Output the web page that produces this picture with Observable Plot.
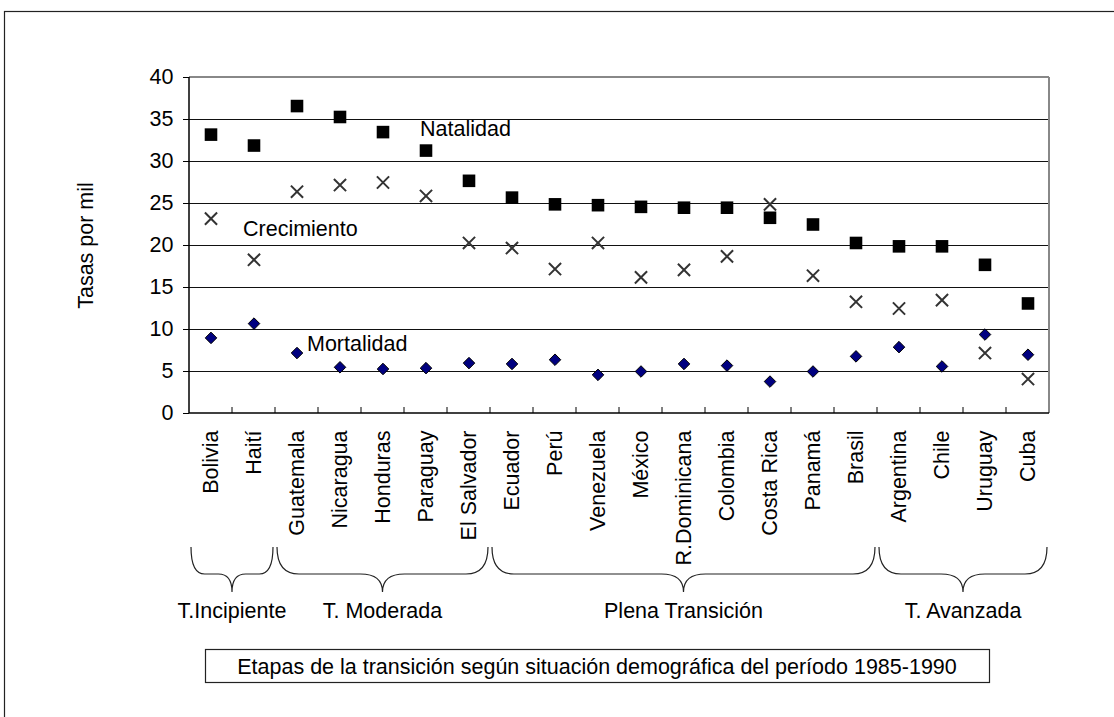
<!DOCTYPE html>
<html><head><meta charset="utf-8">
<script src="https://cdn.jsdelivr.net/npm/d3@7"></script>
<script src="https://cdn.jsdelivr.net/npm/@observablehq/plot@0.6"></script>
<style>body{margin:0;background:#fff;} svg{display:block}</style>
</head><body><div id="chart"></div>
<script>
const paises = ["Bolivia","Haití","Guatemala","Nicaragua","Honduras","Paraguay","El Salvador","Ecuador","Perú","Venezuela","México","R.Dominicana","Colombia","Costa Rica","Panamá","Brasil","Argentina","Chile","Uruguay","Cuba"];
const natalidad   = [33.2,31.9,36.6,35.3,33.5,31.3,27.7,25.7,24.9,24.8,24.6,24.5,24.5,23.3,22.5,20.3,19.9,19.9,17.7,13.1];
const crecimiento = [23.2,18.3,26.4,27.2,27.5,25.9,20.3,19.7,17.2,20.3,16.2,17.1,18.7,24.9,16.4,13.3,12.5,13.5,7.2,4.1];
const mortalidad  = [9.0,10.7,7.2,5.5,5.3,5.4,6.0,5.9,6.4,4.6,5.0,5.9,5.7,3.8,5.0,6.8,7.9,5.6,9.4,7.0];
const ticksY = [0,5,10,15,20,25,30,35,40];
const gridY = [5,10,15,20,25,30,35];
const etapas = ["T.Incipiente","T. Moderada","Plena Transición","T. Avanzada"];
const etapaDesde = ["Bolivia","Guatemala","Ecuador","Argentina"];
const etapaHasta = ["Haití","El Salvador","Brasil","Cuba"];
const tituloEje = "Tasas por mil";
const leyenda = "Etapas de la transición según situación demográfica del período 1985-1990";
const rotNat = {texto:"Natalidad", pais:"Paraguay", valor:33.8};
const rotCre = {texto:"Crecimiento", pais:"Haití", valor:21.9};
const rotMor = {texto:"Mortalidad", pais:"Guatemala", valor:8.3};

const datos = paises.map((p,i)=>({pais:p, natalidad:natalidad[i], crecimiento:crecimiento[i], mortalidad:mortalidad[i]}));
const font = "'Liberation Sans', Arial, Helvetica, sans-serif";
const fs = 21.5;

const plot = Plot.plot({
  width: 1114, height: 717,
  marginLeft: 189, marginRight: 65, marginTop: 77, marginBottom: 304,
  style: {fontFamily: font, fontSize: fs + "px", color: "#000", background: "#fff"},
  x: {type: "band", domain: paises, padding: 0},
  y: {domain: [0, 40]},
  marks: [
    Plot.ruleY(gridY, {stroke: "#111", strokeWidth: 1}),
    Plot.axisY({ticks: ticksY, tickSize: 6, tickPadding: 10, fontSize: fs, label: null}),
    Plot.axisX({tickSize: 0, tickPadding: 17, tickRotate: -90, fontSize: fs, label: null}),
    Plot.text([tituloEje], {frameAnchor: "left", text: d => d, rotate: -90, textAnchor: "middle", dx: -103, fontSize: fs}),
    Plot.dot(datos, {x: "pais", y: "crecimiento", symbol: "times", r: 5.6, stroke: "#333", strokeWidth: 2}),
    Plot.dot(datos, {x: "pais", y: "natalidad", symbol: "square", r: 7.1, fill: "#000"}),
    Plot.dot(datos, {x: "pais", y: "mortalidad", symbol: "diamond2", r: 5.2, fill: "#000080", stroke: "#000", strokeWidth: 1}),
    Plot.text([rotNat], {x: "pais", y: "valor", text: "texto", textAnchor: "start", dx: -6, fontSize: fs}),
    Plot.text([rotCre], {x: "pais", y: "valor", text: "texto", textAnchor: "start", dx: -11, fontSize: fs}),
    Plot.text([rotMor], {x: "pais", y: "valor", text: "texto", textAnchor: "start", dx: 10, fontSize: fs})
  ]
});
document.getElementById("chart").appendChild(plot);

const svg = d3.select(plot);
const sx = plot.scale("x"), sy = plot.scale("y");
const bw = sx.bandwidth;
const X = p => sx.apply(p);
const Y = v => sy.apply(v);
const xL = X(paises[0]), xR = X(paises[paises.length - 1]) + bw;
const g = svg.append("g").attr("fill", "none");

// outer frame
g.append("rect").attr("x", 4.5).attr("y", 11.5).attr("width", 2000).attr("height", 2000).attr("stroke", "#222").attr("stroke-width", 1.2);
// plot border
g.append("line").attr("x1", xL).attr("x2", xR).attr("y1", Y(40)).attr("y2", Y(40)).attr("stroke", "#888").attr("stroke-width", 2);
g.append("line").attr("x1", xR).attr("x2", xR).attr("y1", Y(40)).attr("y2", Y(0)).attr("stroke", "#888").attr("stroke-width", 2);
g.append("line").attr("x1", xL).attr("x2", xL).attr("y1", Y(40)).attr("y2", Y(0)).attr("stroke", "#000").attr("stroke-width", 1.5);
g.append("line").attr("x1", xL).attr("x2", xR).attr("y1", Y(0)).attr("y2", Y(0)).attr("stroke", "#000").attr("stroke-width", 1.5);
// category boundary ticks
g.selectAll("line.tb").data(paises.slice(1)).join("line").attr("class", "tb")
  .attr("x1", X).attr("x2", X).attr("y1", Y(0)).attr("y2", Y(0) - 6).attr("stroke", "#000");

// braces and stage labels
const yTop = 547, yFlat = 574, yTip = 592;
etapas.forEach((nombre, i) => {
  const a = X(etapaDesde[i]) + 2, b = X(etapaHasta[i]) + bw - 2, c = (a + b) / 2;
  const r = Math.min(22, (b - a) / 6);
  const path = `M${a},${yTop} Q${a},${yFlat} ${a + r},${yFlat} L${c - r},${yFlat} Q${c},${yFlat} ${c},${yTip} Q${c},${yFlat} ${c + r},${yFlat} L${b - r},${yFlat} Q${b},${yFlat} ${b},${yTop}`;
  g.append("path").attr("d", path).attr("stroke", "#222").attr("stroke-width", 1.2);
  svg.append("text").attr("x", c).attr("y", 618).attr("text-anchor", "middle")
    .attr("font-family", font).attr("font-size", fs).attr("fill", "#000").text(nombre);
});

// caption box
g.append("rect").attr("x", 205.5).attr("y", 649.5).attr("width", 784).attr("height", 33).attr("stroke", "#222").attr("stroke-width", 1.2).attr("fill", "#fff");
svg.append("text").attr("x", 597).attr("y", 666).attr("dy", "0.35em").attr("text-anchor", "middle")
  .attr("font-family", font).attr("font-size", fs).attr("fill", "#000").text(leyenda);
</script>
</body></html>
